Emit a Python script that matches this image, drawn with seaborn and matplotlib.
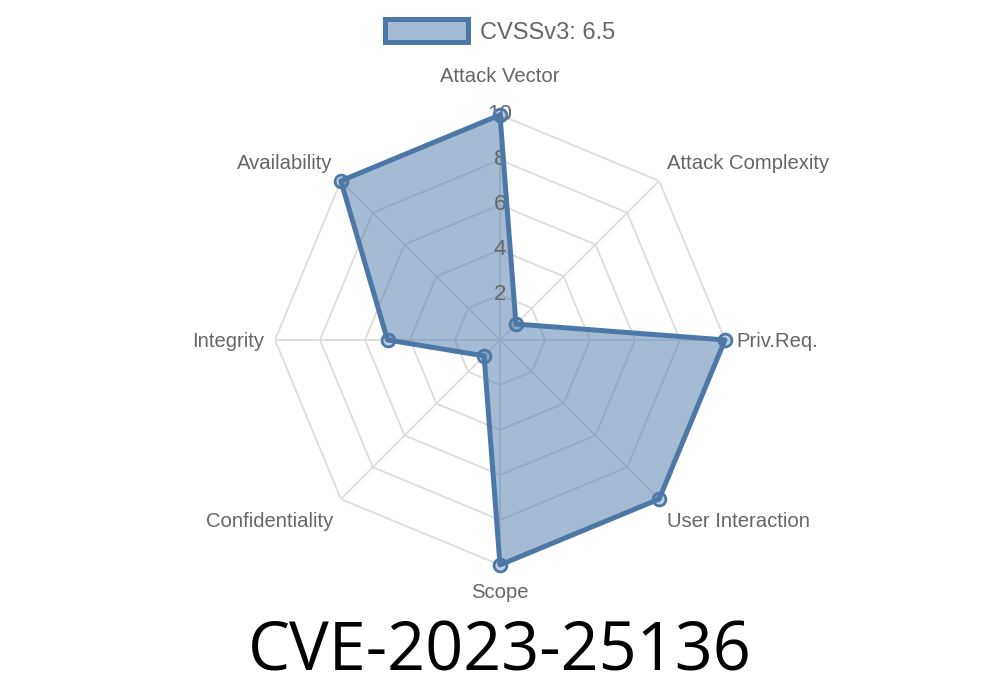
import numpy as np
import pandas as pd
import matplotlib
matplotlib.use('Agg')
import matplotlib.pyplot as plt
import matplotlib.patches as mpatches
import matplotlib.transforms as mtransforms
import seaborn as sns

# Données CVSS
categories = ['Attack Vector', 'Attack Complexity', 'Priv.Req.', 'User Interaction',
              'Scope', 'Confidentiality', 'Integrity', 'Availability']
valeurs = [10, 1, 10, 10, 10, 1, 5, 10]
ticks = [2, 4, 6, 8, 10]
legende = 'CVSSv3: 6.5'
titre = 'CVE-2023-25136'

sns.set_theme(style="white")
plt.rcParams['font.family'] = ['Liberation Sans', 'DejaVu Sans']

bleu = '#4c78a8'
gris = '#666666'

n = len(categories)
angles = np.linspace(0, 2 * np.pi, n, endpoint=False)
df = pd.DataFrame({'theta': np.append(angles, angles[0]),
                   'r': valeurs + valeurs[:1]})

fig = plt.figure(figsize=(10, 7), dpi=100)
ax = fig.add_axes([0.275, 0.1929, 0.45, 0.6429], projection='polar')
ax.set_theta_offset(np.pi / 2)
ax.set_theta_direction(-1)
ax.set_ylim(0, 10)
ax.grid(False)
ax.spines['polar'].set_visible(False)
ax.set_xticks([])
ax.set_yticks([])
ax.set_facecolor('none')

# Grille polygonale
ferme = np.append(angles, angles[0])
for t in ticks:
    ax.plot(ferme, [t] * len(ferme), color='#dddddd', lw=1.3, zorder=1)
for a in angles:
    ax.plot([a, a], [0, 10], color='#dddddd', lw=1.3, zorder=1)

# Surface + contour
ax.fill(df['theta'], df['r'], color=bleu, alpha=0.5, lw=0, zorder=2)
for t in ticks:
    ax.text(0, t, str(t), ha='center', va='center', fontsize=16,
            color=gris, zorder=3)
sns.lineplot(data=df, x='theta', y='r', sort=False, ax=ax, color=bleu,
             lw=3.6, zorder=4, estimator=None, clip_on=False)
ax.scatter(angles, valeurs, s=85, facecolor=(0.3, 0.47, 0.66, 0.35),
           edgecolor=bleu, linewidth=2, zorder=5, clip_on=False)
ax.set_xlabel('')
ax.set_ylabel('')

# Étiquettes des axes
decale = mtransforms.offset_copy(ax.transData, fig=fig, y=-5, units='dots')
for a, lab in zip(angles, categories):
    c, s = np.sin(a), np.cos(a)
    ha = 'center' if abs(c) < 0.1 else ('left' if c > 0 else 'right')
    tr = ax.transData
    if abs(s) < 0.1:
        va = 'center_baseline'
        r = 10.5
    elif s > 0:
        va = 'bottom'
        r = 11.3 if abs(c) < 0.1 else 10.5
    else:
        va = 'top'
        if abs(c) < 0.1:
            r = 10.8
        else:
            r = 10.5
            tr = decale
    ax.text(a, r, lab, ha=ha, va=va, fontsize=14.6, color=gris, transform=tr)

# Légende
patch = mpatches.Patch(facecolor='#a5bbd3', edgecolor=bleu, linewidth=3.6, label=legende)
leg = fig.legend(handles=[patch], loc='center', bbox_to_anchor=(0.5, 0.955),
                 frameon=False, fontsize=17, handlelength=3.5, handleheight=1.1,
                 handletextpad=0.5)
for t in leg.get_texts():
    t.set_color(gris)

fig.text(0.5, 0.067, titre, ha='center', va='center', fontsize=48,
         family=['Open Sans', 'DejaVu Sans'], color='black')

plt.savefig('out.png', dpi=100)
